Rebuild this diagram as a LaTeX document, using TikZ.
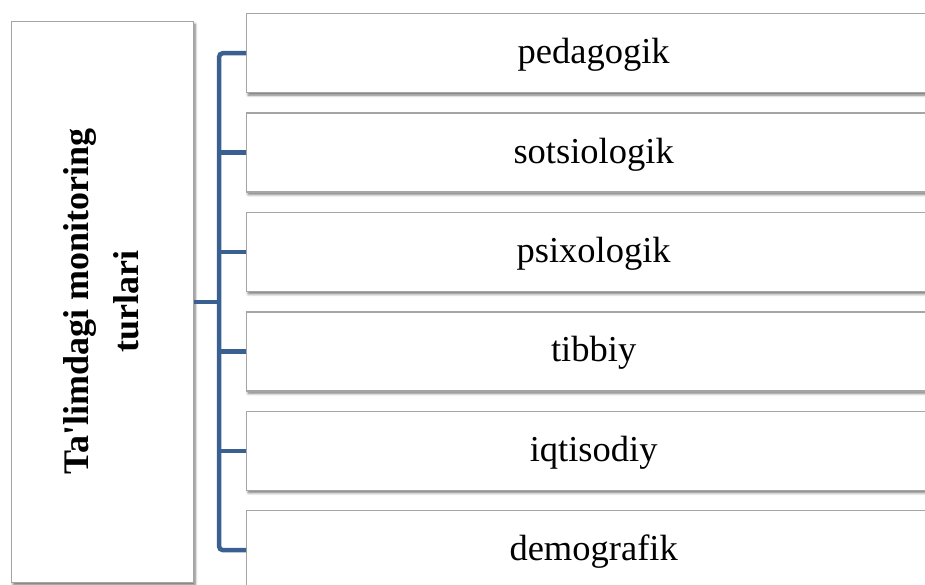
\documentclass[tikz,border=0pt]{standalone}
\usepackage{fontspec}
\setmainfont{Liberation Serif}[Ligatures=TeXOff]
\usetikzlibrary{shadows.blur}
\definecolor{linkblue}{RGB}{58,96,145}
\definecolor{boxgray}{RGB}{165,165,165}
\begin{document}
\begin{tikzpicture}[x=1pt,y=-1pt,
  box/.style={draw=boxgray, line width=1.3pt, fill=white,
    blur shadow={shadow xshift=1.5pt, shadow yshift=-2.5pt, shadow blur radius=2.5pt,
      shadow blur steps=6, shadow opacity=55},
    inner sep=0pt, anchor=north west},
  item/.style={box, minimum width=694pt, minimum height=79pt,
    text height=25pt, text depth=4pt,
    font=\fontsize{36.5}{40}\selectfont},
  link/.style={draw=linkblue, line width=4.5pt}]
\useasboundingbox (0,0) rectangle (925,585);
\node[box, minimum width=182pt, minimum height=561pt] (root) at (11,21) {};
\node[rotate=90, align=center, font=\bfseries\fontsize{36}{50}\selectfont] (rootlabel)
  at ([xshift=-1pt,yshift=1pt]root.center) {Ta'limdagi monitoring\\turlari};
\node[item] (n1) at (246,13) {pedagogik};
\node[item] (n2) at (246,112.4) {sotsiologik};
\node[item] (n3) at (246,211.8) {psixologik};
\node[item] (n4) at (246,311.2) {tibbiy};
\node[item] (n5) at (246,410.6) {iqtisodiy};
\node[item] (n6) at (246,510) {demografik};
\draw[link, rounded corners=4pt] (n1.west) -- ++(-27,0) coordinate (bustop) |- (n6.west);
\foreach \i in {2,...,5} \draw[link] (n\i.west) -- ++(-27,0);
\draw[link] (root.east) -- (root.east -| bustop);
\end{tikzpicture}
\end{document}
